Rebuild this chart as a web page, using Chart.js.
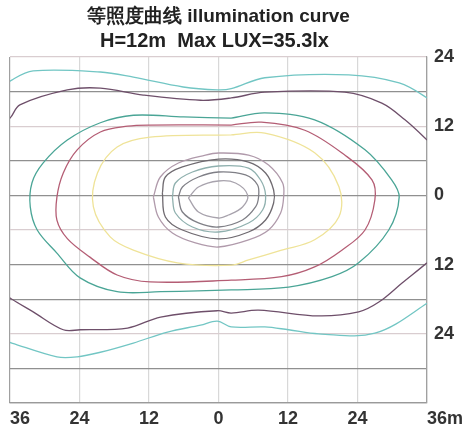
<!DOCTYPE html>
<html>
<head>
<meta charset="utf-8">
<script src="https://cdn.jsdelivr.net/npm/chart.js@4.4.1/dist/chart.umd.min.js"></script>
<style>
  html, body { margin: 0; padding: 0; background: #fff; }
  #wrap { width: 462px; height: 430px; }
</style>
</head>
<body>
<div id="wrap"><canvas id="mychart"></canvas></div>
<script>
// titles
const titleLines = ['等照度曲线 illumination curve', 'H=12m  Max LUX=35.3lx'];

// axis ticks
const xTicks = [-36, -24, -12, 0, 12, 24, 36];
const xTickLabels = ['36', '24', '12', '0', '12', '24', '36m'];
const yTickValues = [24, 12, 0, -12, -24];
const yTickLabels = ['24', '12', '0', '12', '24'];

// isolux curves, [x m, y m]
const cyanTop = [[-39, 17.5], [-35.7, 20.0], [-32.0, 21.6], [-20.4, 21.4], [-14.7, 20.5], [-6.1, 18.8], [-0.2, 18.3], [2.2, 18.5], [8.0, 20.4], [22.5, 20.9], [31.2, 19.5], [36, 16.9], [38.4, 14.8]];
const cyanBottom = [[-39, -24.5], [-35.7, -25.6], [-27.9, -28.0], [-24.4, -28.0], [-20.4, -27.2], [-14.7, -25.6], [-8.8, -23.7], [-3.1, -22.5], [-0.2, -21.8], [2.2, -22.8], [8.0, -22.8], [12.1, -23.3], [17.3, -24.0], [27.0, -23.9], [36, -18.7], [38.4, -16.4]];
const purpleTop = [[-38.5, 11.5], [-36, 13.4], [-34.3, 15.7], [-26.1, 18.3], [-20.4, 18.6], [-13.0, 17.4], [-3.1, 16.5], [2.2, 16.9], [8.0, 17.9], [21.8, 17.9], [28.2, 16.0], [32.2, 13.1], [36, 9.6], [38.5, 7]];
const purpleBottom = [[-38.5, -16], [-36, -17.8], [-32.0, -20.2], [-26.8, -23.3], [-23.9, -23.3], [-15.7, -23.0], [-10.0, -21.1], [-0.2, -20.0], [2.2, -20.4], [6.9, -19.9], [17.3, -20.9], [24.2, -20.2], [27.7, -18.5], [31.7, -15.2], [36, -11.7], [38.5, -9.5]];
const tealRing = [[2.2, 13.4], [8.0, 14.3], [16.6, 13.1], [25.3, 7.9], [29.9, 2.7], [31.2, -0.3], [29.4, -6.0], [24.2, -11.7], [19.6, -14.1], [12.1, -15.9], [2.2, -16.4], [-10.0, -16.7], [-17.5, -16.7], [-23.9, -14.3], [-27.9, -10.0], [-31.3, -6.0], [-32.5, -2.0], [-32.2, 2.2], [-30.3, 5.6], [-26.1, 9.6], [-20.4, 12.6], [-14.7, 13.9], [-6, 13.6], [2.2, 13.4]];
const redRing = [[2.2, 12.2], [7.4, 12.7], [14.9, 11.3], [21.8, 7.0], [26.5, 2.7], [27.0, -0.8], [25.3, -6.0], [21.3, -9.5], [16.6, -12.4], [10.9, -14.1], [2.2, -14.7], [-11.8, -15.0], [-17.5, -13.8], [-22.2, -10.7], [-26.1, -7.5], [-27.9, -4.3], [-27.9, -0.3], [-26.8, 3.9], [-24.4, 7.9], [-20.4, 11.0], [-15.7, 12.0], [-11.8, 12.2], [2.2, 12.2]];
const yellowRing = [[2.2, 10.5], [8.0, 10.8], [16.6, 7.4], [20.8, 1.5], [20.8, -3.7], [16.6, -7.7], [10.9, -9.5], [5.2, -11.2], [2.2, -12.1], [-7.1, -11.7], [-14.7, -9.5], [-18.7, -7.2], [-21.6, -2.0], [-20.9, 3.9], [-17.5, 8.4], [-11.8, 10.1], [2.2, 10.5]];
const ring1 = [[-11.25, -0.28], [-10.04, 3.19], [-6.92, 5.62], [-2.25, 7.0], [0, 7.35], [5.19, 7.0], [8.65, 5.27], [11.08, 2.15], [11.25, -0.28], [10.73, -3.05], [8.65, -6.0], [5.19, -7.73], [0, -8.95], [-3.98, -8.25], [-7.96, -6.52], [-10.38, -3.74], [-11.25, -0.28]];
const ring2 = [[-9.69, 0.42], [-9.17, 3.19], [-6.23, 4.93], [0, 6.3], [5.19, 5.79], [8.13, 3.89], [9.52, 0.94], [9.52, -1.32], [8.13, -4.26], [5.19, -6.35], [0, -7.55], [-6.23, -6.0], [-9.17, -3.74], [-9.69, 0.42]];
const ring3 = [[-7.96, -0.28], [-7.44, 2.15], [-4.5, 4.06], [0, 5.1], [5.19, 4.75], [7.27, 2.67], [8.13, 0.07], [7.62, -2.53], [5.19, -4.78], [0, -6.35], [-4.5, -5.48], [-7.44, -3.05], [-7.96, -0.28]];
const ring4 = [[-6.92, -0.28], [-6.23, 1.46], [-3.46, 3.19], [0, 4.06], [4.67, 3.54], [6.75, 1.8], [6.92, -0.28], [6.4, -2.01], [4.15, -4.26], [0, -5.48], [-3.46, -4.78], [-6.23, -2.88], [-6.92, -0.28]];
const ring5 = [[-5.19, -0.45], [-3.46, 1.46], [0, 2.5], [2.94, 2.15], [5.02, 0.07], [4.15, -2.01], [1.73, -3.4], [0, -3.92], [-3.46, -2.88], [-5.19, -0.45]];

const curves = [
  [cyanTop, '#72c6c4'], [cyanBottom, '#72c6c4'],
  [purpleTop, '#6e4f6a'], [purpleBottom, '#6e4f6a'],
  [tealRing, '#4aa596'], [redRing, '#b45d74'], [yellowRing, '#efe398'],
  [ring1, '#b09aab'], [ring2, '#6f6a70'], [ring3, '#8fb0ae'], [ring4, '#7f7f86'], [ring5, '#a8a3ad']
];

const lightRows = [24, 12, -6, -24];
const fontFamily = '"Liberation Sans", Arial, sans-serif';

// titles centred over the plot, x labels with the end ones hung outward
const textPlugin = {
  id: 'textPlugin',
  afterDraw(chart) {
    const ctx = chart.ctx, x = chart.scales.x, area = chart.chartArea;
    const mid = (area.left + area.right) / 2;
    ctx.save();
    ctx.fillStyle = '#222';
    ctx.textAlign = 'center';
    ctx.textBaseline = 'middle';
    ctx.font = 'bold 19px ' + fontFamily;
    ctx.fillText(titleLines[0], mid, area.top - 40);
    ctx.font = 'bold 20px ' + fontFamily;
    ctx.fillText(titleLines[1], mid - 4, area.top - 16);

    ctx.font = 'bold 18px ' + fontFamily;
    ctx.fillStyle = '#333';
    xTicks.forEach((v, i) => {
      ctx.textAlign = (i === 0 || i === xTicks.length - 1) ? 'left' : 'center';
      ctx.fillText(xTickLabels[i], x.getPixelForValue(v), area.bottom + 16);
    });
    ctx.restore();
  }
};

new Chart(document.getElementById('mychart'), {
  type: 'scatter',
  data: {
    datasets: curves.map(c => ({
      data: c[0].map(p => ({ x: p[0], y: p[1] })),
      showLine: true,
      borderColor: c[1],
      borderWidth: 1.3,
      pointRadius: 0,
      tension: 0.35
    }))
  },
  options: {
    responsive: true,
    maintainAspectRatio: false,
    animation: false,
    layout: { padding: { left: 10, right: 1, top: 57, bottom: 27 } },
    plugins: {
      legend: { display: false },
      tooltip: { enabled: false },
      title: { display: false }
    },
    scales: {
      x: {
        type: 'linear',
        min: -36, max: 36,
        ticks: { stepSize: 12, display: false },
        grid: {
          drawTicks: false,
          color: ctx => (ctx.tick && Math.abs(ctx.tick.value) === 36) ? '#a0a0a0' : '#d8d8d8',
          lineWidth: 1.2
        },
        border: { color: '#9a9a9a', width: 1.2 }
      },
      y: {
        type: 'linear',
        position: 'right',
        min: -36, max: 24,
        ticks: {
          stepSize: 6,
          padding: 7,
          color: '#333',
          font: { family: fontFamily, size: 18, weight: 'bold' },
          callback: v => {
            const i = yTickValues.indexOf(v);
            return i >= 0 ? yTickLabels[i] : '';
          }
        },
        grid: {
          drawTicks: false,
          color: ctx => (ctx.tick && lightRows.indexOf(ctx.tick.value) >= 0) ? '#d9cdd0' : '#909090',
          lineWidth: 1.2
        },
        border: { color: '#a0a0a0', width: 1.2 }
      }
    }
  },
  plugins: [textPlugin]
});
</script>
</body>
</html>
